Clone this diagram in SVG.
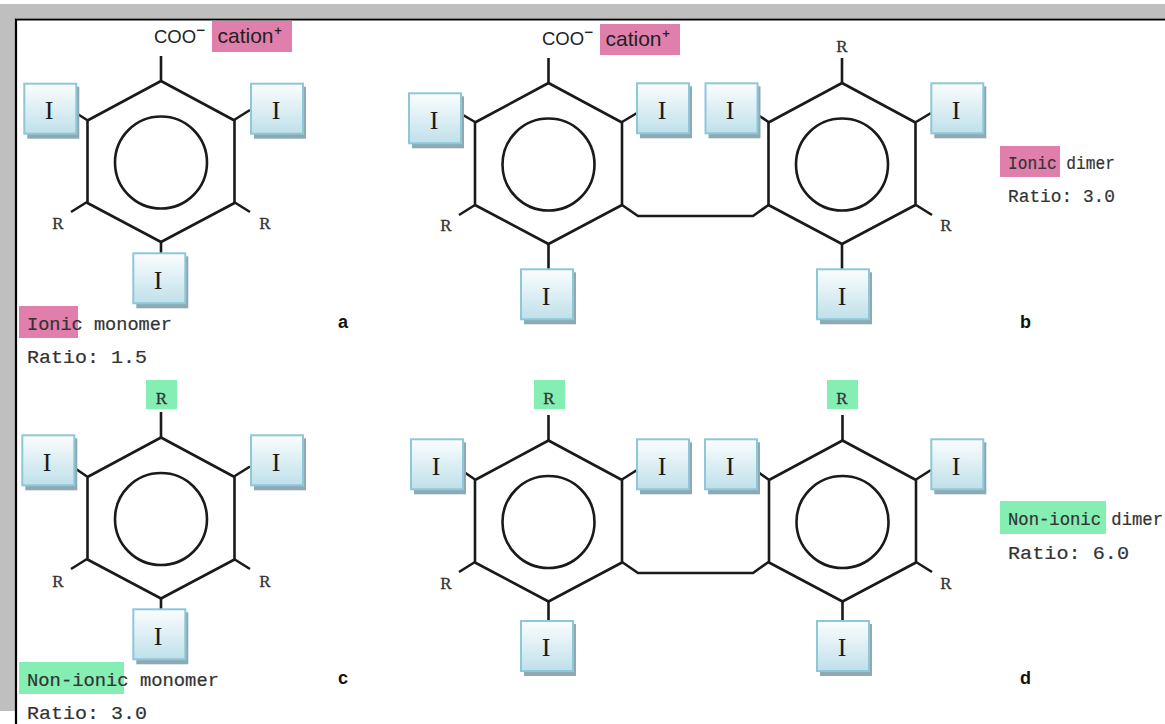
<svg xmlns="http://www.w3.org/2000/svg" width="1165" height="724" viewBox="0 0 1165 724">
<style>
.b{fill:none;stroke:#1a1a1a;stroke-width:2.600;stroke-linejoin:round;stroke-linecap:butt}
.box{fill:url(#g);stroke:#8cc8d8;stroke-width:2}
.sh{fill:#8fa9b2}
.I{font:26px "Liberation Serif",serif;fill:#1a1a1a;text-anchor:middle}
.R{font:17px "Liberation Serif",serif;fill:#333;text-anchor:middle;stroke:#333;stroke-width:.3}
.m{font:17.5px "Liberation Mono",monospace;fill:#333;stroke:#333;stroke-width:.2}
.s{font:18.500px "Liberation Sans",sans-serif;fill:#222}
.c{font:21px "Liberation Sans",sans-serif;fill:#222}
.bold{font:bold 18px "Liberation Sans",sans-serif;fill:#111}
.pink{fill:#e07fac}
.green{fill:#85efb3}
</style>
<defs>
<linearGradient id="g" x1="0" y1="0" x2="0" y2="1"><stop offset="0" stop-color="#fbfdfe"/><stop offset="1" stop-color="#bfe0ea"/></linearGradient>
<g id="ibox"><rect class="sh" x="3" y="3" width="52" height="52"/><rect class="box" x="0" y="0" width="52" height="50"/></g>
<g id="hex"><path class="b" d="M0 0L73.500 39.500V122L0 161L-73.500 122V39.500Z"/><circle class="b" cx="0" cy="81.500" r="46"/></g>
</defs>
<rect width="1165" height="724" fill="#fff"/>
<path fill="#bfbfbf" d="M0 4H1165V18H16V711H0Z"/>
<path fill="none" stroke="#000" stroke-width="2.200" d="M1165 19.500H16V724"/>
<g id="connectors">
<path class="b" d="M161 56V81M87 120L76 113M234 120L250 110M87 202L71 212M234 202L250 212M161 242V253"/>
<path class="b" d="M548.500 58V83M475 122L463 115M622 122L637 113M475 205L459 215M622 205L638 216H753L768.500 205M548.500 244V269"/>
<path class="b" d="M842 58V83M768.500 122L758 115M916 122L931 113M916 205L932 215M842 244V269"/>
<path class="b" d="M161 412V437.500M87 476.500L76 469M234 476.500L250 466.500M87 559L71 569M234 559L250 569M161 598.500V609"/>
<path class="b" d="M548.500 415V440.500M475 479.500L464 472M622 479.500L637 470M475 562L459 572M622 562L638 573H753L768.500 562M548.500 601V621"/>
<path class="b" d="M842.500 415V440.500M768.500 479.500L758 472M916 479.500L931 470M916 562L932 572M842.500 601V621"/>
</g>
<g id="panel-a">
<use href="#hex" x="161" y="81"/>
<g id="a-cooh"><text class="s" x="154" y="43">COO<tspan font-size="28" dy="4">⁻</tspan></text><rect class="pink" x="212" y="21" width="80" height="31"/><text class="c" x="217.500" y="43">cation<tspan font-size="24" dy="2">⁺</tspan></text></g>
<g id="a-i1"><use href="#ibox" x="24.300" y="83.700"/><text class="I" x="49" y="119">I</text></g>
<g id="a-i2"><use href="#ibox" x="251" y="83.700"/><text class="I" x="276" y="119">I</text></g>
<g id="a-i3"><use href="#ibox" x="133.300" y="253.300"/><text class="I" x="158" y="289">I</text></g>
<text class="R" x="58" y="229">R</text><text class="R" x="265" y="229">R</text>
<rect class="pink" x="19" y="306" width="59" height="32"/>
<text class="m" x="27" y="330" textLength="145" lengthAdjust="spacingAndGlyphs">Ionic monomer</text>
<text class="m" x="27" y="363" textLength="120" lengthAdjust="spacingAndGlyphs">Ratio: 1.5</text>
<text class="bold" x="338" y="328">a</text>
</g>
<g id="panel-b">
<use href="#hex" x="548.500" y="83"/><use href="#hex" x="842" y="83"/>
<g id="b-cooh"><text class="s" x="542" y="45">COO<tspan font-size="28" dy="4">⁻</tspan></text><rect class="pink" x="600" y="24" width="80" height="31"/><text class="c" x="605.500" y="46">cation<tspan font-size="24" dy="2">⁺</tspan></text></g>
<g id="b-i1"><use href="#ibox" x="409" y="93.300"/><text class="I" x="434" y="129">I</text></g>
<g id="b-i2"><use href="#ibox" x="637" y="83.300"/><text class="I" x="662" y="119">I</text></g>
<g id="b-i3"><use href="#ibox" x="705.500" y="83.300"/><text class="I" x="730" y="119">I</text></g>
<g id="b-i4"><use href="#ibox" x="931.300" y="83.300"/><text class="I" x="956" y="119">I</text></g>
<g id="b-i5"><use href="#ibox" x="521" y="269.300"/><text class="I" x="546" y="305">I</text></g>
<g id="b-i6"><use href="#ibox" x="817" y="269.300"/><text class="I" x="842" y="305">I</text></g>
<text class="R" x="842" y="52">R</text><text class="R" x="446" y="231">R</text><text class="R" x="946" y="231">R</text>
<rect class="pink" x="1000" y="146" width="60" height="31"/>
<text class="m" x="1008" y="169" textLength="107" lengthAdjust="spacingAndGlyphs">Ionic dimer</text>
<text class="m" x="1008" y="202" textLength="107" lengthAdjust="spacingAndGlyphs">Ratio: 3.0</text>
<text class="bold" x="1020" y="328">b</text>
</g>
<g id="panel-c">
<use href="#hex" x="161" y="437.500"/>
<rect class="green" x="146" y="380" width="31" height="29"/><text class="R" x="161.500" y="404">R</text>
<g id="c-i1"><use href="#ibox" x="22.300" y="435.300"/><text class="I" x="47" y="471">I</text></g>
<g id="c-i2"><use href="#ibox" x="251" y="435.300"/><text class="I" x="276" y="471">I</text></g>
<g id="c-i3"><use href="#ibox" x="133.300" y="609.300"/><text class="I" x="158" y="645">I</text></g>
<text class="R" x="58" y="587">R</text><text class="R" x="265" y="587">R</text>
<rect class="green" x="19" y="662" width="105" height="32"/>
<text class="m" x="27" y="686" textLength="192" lengthAdjust="spacingAndGlyphs">Non-ionic monomer</text>
<text class="m" x="27" y="719" textLength="120" lengthAdjust="spacingAndGlyphs">Ratio: 3.0</text>
<text class="bold" x="338" y="684">c</text>
</g>
<g id="panel-d">
<use href="#hex" x="548.500" y="440.500"/><use href="#hex" x="842.500" y="440.500"/>
<rect class="green" x="534" y="380" width="31" height="29"/><text class="R" x="549" y="404">R</text>
<rect class="green" x="827" y="380" width="31" height="29"/><text class="R" x="842" y="404">R</text>
<g id="d-i1"><use href="#ibox" x="411" y="439.300"/><text class="I" x="436" y="475">I</text></g>
<g id="d-i2"><use href="#ibox" x="637" y="439.300"/><text class="I" x="662" y="475">I</text></g>
<g id="d-i3"><use href="#ibox" x="705" y="439.300"/><text class="I" x="730" y="475">I</text></g>
<g id="d-i4"><use href="#ibox" x="931.300" y="439.300"/><text class="I" x="956" y="475">I</text></g>
<g id="d-i5"><use href="#ibox" x="521" y="621"/><text class="I" x="546" y="656">I</text></g>
<g id="d-i6"><use href="#ibox" x="817" y="621"/><text class="I" x="842" y="656">I</text></g>
<text class="R" x="446" y="589">R</text><text class="R" x="946" y="589">R</text>
<rect class="green" x="1000" y="501" width="106" height="33"/>
<text class="m" x="1008" y="525" textLength="155" lengthAdjust="spacingAndGlyphs">Non-ionic dimer</text>
<text class="m" x="1008" y="559" textLength="121" lengthAdjust="spacingAndGlyphs">Ratio: 6.0</text>
<text class="bold" x="1020" y="684">d</text>
</g>
</svg>
